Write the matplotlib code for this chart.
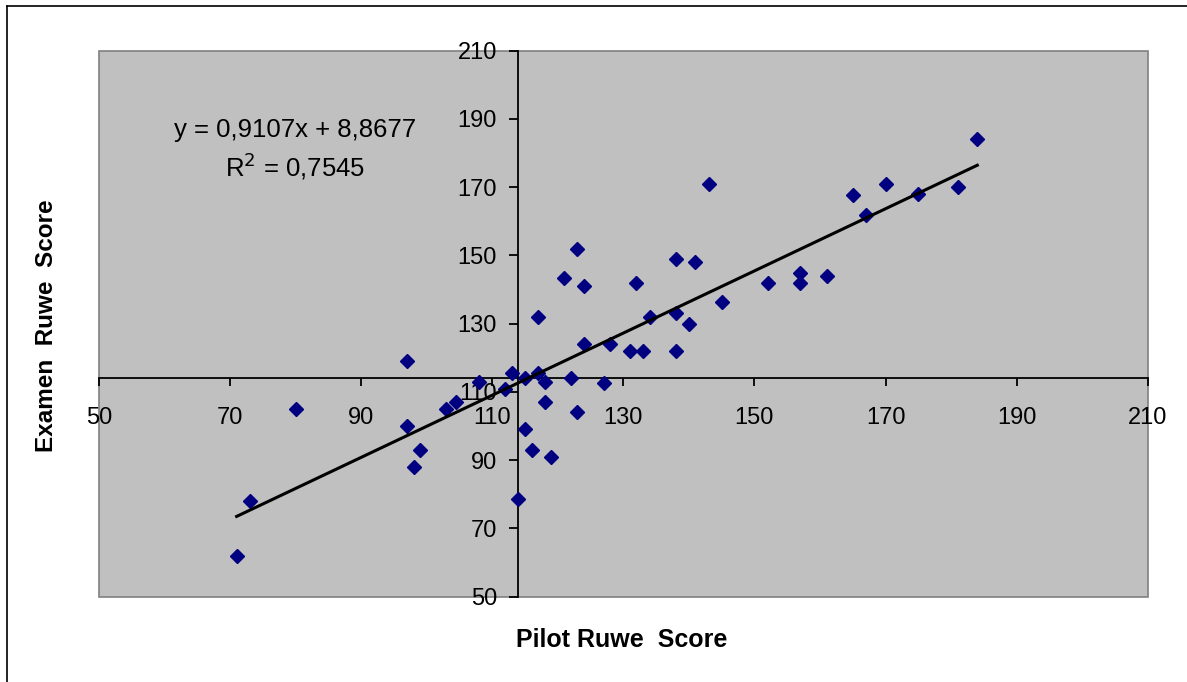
import numpy as np
import matplotlib
matplotlib.use("Agg")
import matplotlib.pyplot as plt
from matplotlib.patches import Rectangle
from matplotlib.lines import Line2D

plt.rcParams['font.family'] = ['Liberation Sans', 'DejaVu Sans']

# scores
pilot = [71, 73, 80, 97, 97, 99, 98, 103, 104.5, 108, 112, 113, 115, 117, 118,
         118, 122, 123, 127, 115, 116, 119, 114, 124, 128, 123, 121, 124, 117,
         132, 138, 141, 134, 138, 140, 131, 133, 138, 143, 145, 184, 165, 170,
         167, 175, 181, 152, 157, 157, 161]
examen = [62, 78, 105, 119, 100, 93, 88, 105, 107, 113, 111, 115.5, 114, 115.5,
          113, 107, 114, 104, 112.5, 99, 93, 91, 78.5, 124, 124, 152, 143.5, 141,
          132, 142, 149, 148, 132, 133, 130, 122, 122, 122, 171, 136.5, 184,
          167.7, 171, 162, 168, 170, 142, 145, 142, 144]

slope = 0.9107
intercept = 8.8677
r2 = 0.7545

x_ticks = [50, 70, 90, 110, 130, 150, 170, 190, 210]
y_ticks = [50, 70, 90, 110, 130, 150, 170, 190, 210]
cross_at = 114

W, H = 1187, 682
fig = plt.figure(figsize=(W / 100, H / 100), dpi=100)
fig.patch.set_facecolor('white')

ax = fig.add_axes([99 / W, 1 - 596.7 / H, (1147.7 - 99) / W, (596.7 - 50.7) / H])
ax.set_facecolor('#C0C0C0')
ax.set_xlim(50, 210)
ax.set_ylim(50, 210)

# axes crossing inside the plot, excel style
for s in ['top', 'right']:
    ax.spines[s].set_visible(False)
ax.spines['left'].set_position(('data', cross_at))
ax.spines['bottom'].set_position(('data', cross_at))
ax.spines['left'].set_linewidth(1.3)
ax.spines['bottom'].set_linewidth(1.3)
ax.add_patch(Rectangle((0, 0), 1, 1, transform=ax.transAxes, fill=False,
                       edgecolor='#808080', lw=1.2, zorder=0.5, clip_on=False))

ax.set_xticks(x_ticks)
ax.set_yticks(y_ticks)
ax.set_xticklabels([str(t) for t in x_ticks])
ax.set_yticklabels([str(t) for t in y_ticks])
ax.tick_params(axis='x', direction='out', length=5.5, width=1.3, pad=15, labelsize=17)
ax.tick_params(axis='y', direction='out', length=6.5, width=1.3, pad=9, labelsize=17)

ax.plot(pilot, examen, linestyle='none', marker='D', markersize=7,
        color='#000080', zorder=3)

xs = np.array([min(pilot), max(pilot)])
ax.plot(xs, slope * xs + intercept, color='black', lw=2.2, zorder=4)

eq = "y = %sx + %s" % (str(slope).replace('.', ','), str(intercept).replace('.', ','))
fig.text(295 / W, 1 - 130 / H, eq, ha='center', va='center', fontsize=18.5)
fig.text(295 / W, 1 - 166 / H, "R$^2$ = " + str(r2).replace('.', ','),
         ha='center', va='center', fontsize=18.5)

fig.text(47 / W, 1 - 326 / H, "Examen  Ruwe  Score", rotation=90, ha='center',
         va='center', fontsize=17.5, fontweight='bold')
fig.text(622 / W, 1 - 640 / H, "Pilot Ruwe  Score", ha='center', va='center',
         fontsize=18, fontweight='bold')

# outer chart border (only left and top visible)
fig.add_artist(Line2D([7 / W, 7 / W], [0, 1 - 6 / H], color='black', lw=1.2))
fig.add_artist(Line2D([7 / W, 1], [1 - 6 / H, 1 - 6 / H], color='black', lw=1.2))

fig.savefig('out.png', dpi=100)
